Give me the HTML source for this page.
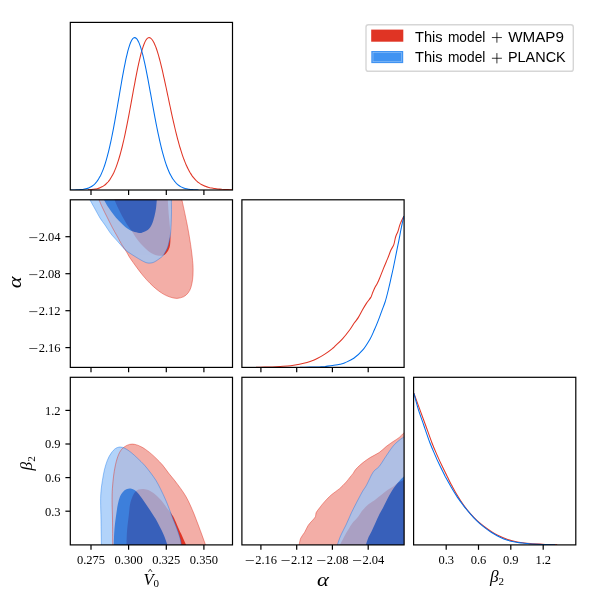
<!DOCTYPE html>
<html><head><meta charset="utf-8"><title>triangle plot</title>
<style>html,body{margin:0;padding:0;background:#fff;}svg{display:block;}text{font-family:"Liberation Serif",serif;fill:#000;}svg{will-change:transform;}.sans{font-family:"Liberation Sans",sans-serif;}</style></head><body>
<svg width="598" height="598" viewBox="0 0 598 598">
<rect x="0" y="0" width="598" height="598" fill="#ffffff"/>
<defs>
<clipPath id="cp00"><rect x="70.3" y="22.4" width="162.2" height="167.6"/></clipPath>
<clipPath id="cp10"><rect x="70.3" y="199.8" width="162.2" height="167.6"/></clipPath>
<clipPath id="cp11"><rect x="241.9" y="199.8" width="162.2" height="167.6"/></clipPath>
<clipPath id="cp20"><rect x="70.3" y="377.3" width="162.2" height="167.6"/></clipPath>
<clipPath id="cp21"><rect x="241.9" y="377.3" width="162.2" height="167.6"/></clipPath>
<clipPath id="cp22"><rect x="413.6" y="377.3" width="162.2" height="167.6"/></clipPath>
</defs>
<g clip-path="url(#cp10)">
<path d="M97.5 196.8C97.8 197.3 98.2 197.9 99 199.8C99.8 201.7 101.2 205.1 102.6 208C103.9 210.9 105.5 213.9 107.1 217.1C108.7 220.3 110.4 223.9 112.1 227.1C113.8 230.3 115.4 233.1 117.1 236.1C118.8 239.1 120.6 242.7 122.1 245.2C123.6 247.7 124.8 249.1 126.1 251.2C127.4 253.3 128.2 255.3 130 258C131.8 260.7 134.5 264.4 136.7 267.4C138.9 270.4 141.2 273.4 143.4 276.1C145.6 278.8 147.9 281.2 150.1 283.4C152.3 285.6 154.6 287.7 156.8 289.5C159 291.3 161.2 292.8 163.4 294.1C165.6 295.4 167.9 296.4 170.1 297.1C172.3 297.8 174.6 298.4 176.8 298.4C179 298.3 181.6 297.7 183.5 296.8C185.4 295.9 187 294.4 188.2 292.8C189.4 291.2 190.2 289.7 190.9 287.5C191.6 285.3 192.2 282.3 192.6 279.4C193 276.5 193.1 273.2 193.1 270.1C193.1 267 193 265 192.6 260.7C192.2 256.4 191.4 249.9 190.6 244.5C189.8 239.1 188.8 233.3 187.9 228.4C187 223.5 186.2 219.9 185.2 215.1C184.2 210.3 182.6 202.9 181.9 199.8C181.2 196.8 181.4 197.3 181.3 196.8Z" fill="#F3AEA7"/>
<path d="M113.3 196.8C113.5 197.3 113.8 198.1 114.6 200C115.4 201.9 116.8 205.3 118.1 208C119.3 210.7 120.8 213.6 122.1 216.1C123.4 218.6 124.8 220.9 126.1 223.1C127.4 225.3 129.2 227.6 130.2 229.1C131.2 230.6 131.2 230.3 132.2 231.8C133.2 233.3 134.9 236.3 136.4 238.3C137.9 240.3 139.4 242.2 141 244C142.6 245.8 144.3 247.5 146 249C147.7 250.5 149.4 252 151.1 253.1C152.7 254.2 154.4 254.9 156.1 255.3C157.8 255.8 159.9 255.8 161.1 255.8C162.3 255.8 162.6 255.7 163.4 255.3C164.2 255 165 254.5 165.8 253.7C166.6 252.9 167.5 251.8 168.1 250.7C168.7 249.6 169.2 248.5 169.6 247.2C170 245.8 170.2 244.3 170.3 242.6C170.4 240.9 170.5 239.4 170.4 237C170.3 234.6 170.3 231.7 170 228C169.7 224.3 169.2 219.7 168.8 215C168.4 210.3 168 203 167.8 200C167.6 197 167.8 197.3 167.8 196.8Z" fill="#E03424"/>
<g opacity="0.75"><path d="M88.5 196.8C88.8 197.3 88.9 198 90 200C91.1 202 93.3 206 95 209C96.7 212 98.3 215.3 100 218C101.7 220.7 103.3 222.6 105 225C106.7 227.4 108.3 230.3 110 232.6C111.7 234.9 113.4 236.7 115.1 238.6C116.8 240.5 118.4 242.3 120.1 244.2C121.8 246 123.4 248.2 125.1 249.7C126.8 251.2 128.2 252.1 130 253.3C131.8 254.5 134.2 256 136 257.1C137.8 258.2 139.3 259.2 141 260.1C142.7 261 144.5 262.1 146 262.6C147.5 263.1 148.7 263.2 150.1 263.1C151.4 263 152.8 262.7 154.1 262.1C155.4 261.5 156.8 260.5 158.1 259.6C159.4 258.7 161 257.6 162.1 256.6C163.2 255.6 163.5 255.2 164.4 253.6C165.3 252 166.7 249.6 167.6 247.2C168.5 244.8 169.1 241.2 169.6 239C170.1 236.8 170.2 236.1 170.5 233.8C170.8 231.5 170.9 228.5 171.1 225C171.3 221.5 171.4 217.2 171.5 213C171.6 208.8 171.4 202.7 171.4 200C171.4 197.3 171.4 197.3 171.4 196.8Z" fill="#99C5F8"/><path d="M102.5 196.8C102.8 197.3 103.2 198.3 104.1 200C105 201.7 106.6 204.7 108.1 207C109.6 209.3 111.4 211.9 113.1 214.1C114.8 216.3 116.4 218.3 118.1 220.1C119.8 221.9 121.4 223.6 123.1 225.1C124.8 226.6 126.4 228 128.1 229.1C129.8 230.2 131.3 231 133.2 231.6C135 232.2 137.7 232.8 139.2 232.9C140.7 233.1 141 233 142.4 232.5C143.8 232 146.1 231.3 147.7 230C149.3 228.7 150.7 226.7 151.8 224.4C152.9 222.1 153.7 219.1 154.4 216.4C155.1 213.7 155.6 211.1 156 208.4C156.4 205.7 156.6 202 156.8 200.1C157 198.2 157 197.4 157 196.8Z" fill="#006FED"/></g>
<path d="M97.5 196.8C97.8 197.3 98.2 197.9 99 199.8C99.8 201.7 101.2 205.1 102.6 208C103.9 210.9 105.5 213.9 107.1 217.1C108.7 220.3 110.4 223.9 112.1 227.1C113.8 230.3 115.4 233.1 117.1 236.1C118.8 239.1 120.6 242.7 122.1 245.2C123.6 247.7 124.8 249.1 126.1 251.2C127.4 253.3 128.2 255.3 130 258C131.8 260.7 134.5 264.4 136.7 267.4C138.9 270.4 141.2 273.4 143.4 276.1C145.6 278.8 147.9 281.2 150.1 283.4C152.3 285.6 154.6 287.7 156.8 289.5C159 291.3 161.2 292.8 163.4 294.1C165.6 295.4 167.9 296.4 170.1 297.1C172.3 297.8 174.6 298.4 176.8 298.4C179 298.3 181.6 297.7 183.5 296.8C185.4 295.9 187 294.4 188.2 292.8C189.4 291.2 190.2 289.7 190.9 287.5C191.6 285.3 192.2 282.3 192.6 279.4C193 276.5 193.1 273.2 193.1 270.1C193.1 267 193 265 192.6 260.7C192.2 256.4 191.4 249.9 190.6 244.5C189.8 239.1 188.8 233.3 187.9 228.4C187 223.5 186.2 219.9 185.2 215.1C184.2 210.3 182.6 202.9 181.9 199.8C181.2 196.8 181.4 197.3 181.3 196.8Z" fill="none" stroke="#E03424" stroke-opacity="0.55" stroke-width="0.85"/>
<path d="M88.5 196.8C88.8 197.3 88.9 198 90 200C91.1 202 93.3 206 95 209C96.7 212 98.3 215.3 100 218C101.7 220.7 103.3 222.6 105 225C106.7 227.4 108.3 230.3 110 232.6C111.7 234.9 113.4 236.7 115.1 238.6C116.8 240.5 118.4 242.3 120.1 244.2C121.8 246 123.4 248.2 125.1 249.7C126.8 251.2 128.2 252.1 130 253.3C131.8 254.5 134.2 256 136 257.1C137.8 258.2 139.3 259.2 141 260.1C142.7 261 144.5 262.1 146 262.6C147.5 263.1 148.7 263.2 150.1 263.1C151.4 263 152.8 262.7 154.1 262.1C155.4 261.5 156.8 260.5 158.1 259.6C159.4 258.7 161 257.6 162.1 256.6C163.2 255.6 163.5 255.2 164.4 253.6C165.3 252 166.7 249.6 167.6 247.2C168.5 244.8 169.1 241.2 169.6 239C170.1 236.8 170.2 236.1 170.5 233.8C170.8 231.5 170.9 228.5 171.1 225C171.3 221.5 171.4 217.2 171.5 213C171.6 208.8 171.4 202.7 171.4 200C171.4 197.3 171.4 197.3 171.4 196.8Z" fill="none" stroke="#006FED" stroke-opacity="0.45" stroke-width="0.85"/>
</g>
<g clip-path="url(#cp20)">
<path d="M112.7 547.9C112.7 547.4 112.7 549.5 112.7 544.9C112.7 540.2 112.6 527.2 112.5 520C112.4 512.8 112.1 507.1 112.1 501.9C112.1 496.6 112.1 493 112.4 488.5C112.7 484 113.1 479.6 113.7 475.1C114.3 470.7 115.2 465.6 116.2 461.8C117.2 458 118.3 454.9 119.6 452.4C120.9 449.9 122.5 448.3 124.2 447C125.9 445.7 127.8 444.8 129.6 444.4C131.4 444 133 444 135 444.4C137 444.8 139.3 445.7 141.7 447C144.1 448.3 147.1 450.5 149.5 452.4C151.9 454.3 154 456.3 156.2 458.4C158.4 460.5 160.5 462.7 162.6 465.1C164.7 467.6 166.7 470.7 168.6 473.1C170.5 475.6 172.1 477.2 174.1 479.8C176.1 482.4 178.8 485.9 180.8 488.7C182.8 491.5 184.6 494.1 186.1 496.8C187.6 499.5 188.8 501.9 190.1 504.8C191.4 507.7 192.8 510.8 194.1 514.1C195.4 517.4 196.8 521.2 198.2 524.8C199.5 528.4 201 532.2 202.2 535.6C203.4 539 204.8 542.9 205.5 544.9C206.2 546.9 206.4 547.4 206.6 547.9Z" fill="#F3AEA7"/>
<path d="M126.5 547.9C126.5 547.4 126.4 547.9 126.5 544.9C126.6 541.9 126.7 534.9 127.1 530.1C127.5 525.3 128.2 520.4 128.7 516.1C129.2 511.9 129.4 507.9 130 504.6C130.6 501.3 131.7 498.6 132.5 496.5C133.3 494.4 134.1 493 135.1 491.9C136.1 490.8 137.3 490.1 138.5 489.6C139.7 489.1 141.1 488.9 142.5 488.9C143.9 488.9 145.8 489.4 147.2 489.8C148.5 490.2 149.2 490.5 150.6 491.3C152 492.1 154 493.3 155.8 494.9C157.6 496.5 159.8 498.7 161.6 500.8C163.4 502.9 165.1 505.6 166.5 507.4C167.9 509.2 168.7 510.2 169.8 511.7C170.9 513.2 171.9 514.1 173.1 516.3C174.3 518.5 175.8 522 177.1 524.9C178.4 527.8 179.8 531 181 533.6C182.2 536.2 183.2 538.5 184.1 540.4C184.9 542.3 185.6 543.6 186.1 544.9C186.6 546.1 186.8 547.4 187 547.9Z" fill="#E03424"/>
<g opacity="0.75"><path d="M101.4 547.9C101.4 547.4 101.5 549.5 101.4 544.9C101.3 540.2 101.1 527.2 101 520C100.9 512.8 100.6 506.7 100.6 501.9C100.6 497.1 100.7 494.8 101 491.2C101.3 487.6 101.8 484.1 102.4 480.5C103 476.9 103.6 473.2 104.4 469.8C105.2 466.4 106.2 463.2 107.3 460.4C108.4 457.6 109.8 455.1 111.2 453.1C112.6 451.1 114 449.5 115.5 448.5C117 447.5 118.7 447 120.3 447C121.9 447 123.2 447.5 125 448.4C126.8 449.3 128.9 450.7 131 452.4C133.1 454.1 135.5 456.3 137.7 458.4C139.9 460.5 142.2 462.7 144.4 465.1C146.6 467.6 148.9 470.5 150.8 473.1C152.7 475.7 154.3 477.8 156 480.5C157.7 483.2 159.1 486.1 160.7 489.3C162.3 492.5 164.1 496.4 165.6 499.8C167.1 503.2 168.3 506.4 169.5 509.6C170.7 512.8 171.8 515.8 173 519C174.2 522.2 175.7 525.5 176.8 528.6C177.9 531.7 179 534.7 179.8 537.4C180.6 540.1 181 543.1 181.4 544.9C181.8 546.6 182 547.4 182.1 547.9Z" fill="#99C5F8"/><path d="M113.8 547.9C113.8 547.4 113.7 547.9 113.8 544.9C113.9 541.9 114 534.9 114.4 530.1C114.8 525.3 115.4 520.4 116 516.1C116.6 511.9 117.1 507.9 117.8 504.6C118.5 501.3 119.2 498.6 120 496.5C120.8 494.4 121.8 493.1 122.9 491.9C124 490.7 125.1 489.8 126.4 489.2C127.7 488.6 129.2 488.4 130.5 488.5C131.8 488.6 133.1 489.1 134.5 490.1C135.9 491.1 137.4 492.5 139.1 494.5C140.8 496.5 142.7 499.3 144.5 501.9C146.3 504.5 148.1 507.1 149.9 509.9C151.8 512.7 153.9 516 155.6 518.8C157.2 521.6 158.4 524.1 159.8 526.8C161.2 529.5 162.6 532.2 163.9 535.2C165.2 538.2 166.7 542.8 167.4 544.9C168.2 547 168.2 547.4 168.4 547.9Z" fill="#006FED"/></g>
<path d="M112.7 547.9C112.7 547.4 112.7 549.5 112.7 544.9C112.7 540.2 112.6 527.2 112.5 520C112.4 512.8 112.1 507.1 112.1 501.9C112.1 496.6 112.1 493 112.4 488.5C112.7 484 113.1 479.6 113.7 475.1C114.3 470.7 115.2 465.6 116.2 461.8C117.2 458 118.3 454.9 119.6 452.4C120.9 449.9 122.5 448.3 124.2 447C125.9 445.7 127.8 444.8 129.6 444.4C131.4 444 133 444 135 444.4C137 444.8 139.3 445.7 141.7 447C144.1 448.3 147.1 450.5 149.5 452.4C151.9 454.3 154 456.3 156.2 458.4C158.4 460.5 160.5 462.7 162.6 465.1C164.7 467.6 166.7 470.7 168.6 473.1C170.5 475.6 172.1 477.2 174.1 479.8C176.1 482.4 178.8 485.9 180.8 488.7C182.8 491.5 184.6 494.1 186.1 496.8C187.6 499.5 188.8 501.9 190.1 504.8C191.4 507.7 192.8 510.8 194.1 514.1C195.4 517.4 196.8 521.2 198.2 524.8C199.5 528.4 201 532.2 202.2 535.6C203.4 539 204.8 542.9 205.5 544.9C206.2 546.9 206.4 547.4 206.6 547.9Z" fill="none" stroke="#E03424" stroke-opacity="0.55" stroke-width="0.85"/>
<path d="M101.4 547.9C101.4 547.4 101.5 549.5 101.4 544.9C101.3 540.2 101.1 527.2 101 520C100.9 512.8 100.6 506.7 100.6 501.9C100.6 497.1 100.7 494.8 101 491.2C101.3 487.6 101.8 484.1 102.4 480.5C103 476.9 103.6 473.2 104.4 469.8C105.2 466.4 106.2 463.2 107.3 460.4C108.4 457.6 109.8 455.1 111.2 453.1C112.6 451.1 114 449.5 115.5 448.5C117 447.5 118.7 447 120.3 447C121.9 447 123.2 447.5 125 448.4C126.8 449.3 128.9 450.7 131 452.4C133.1 454.1 135.5 456.3 137.7 458.4C139.9 460.5 142.2 462.7 144.4 465.1C146.6 467.6 148.9 470.5 150.8 473.1C152.7 475.7 154.3 477.8 156 480.5C157.7 483.2 159.1 486.1 160.7 489.3C162.3 492.5 164.1 496.4 165.6 499.8C167.1 503.2 168.3 506.4 169.5 509.6C170.7 512.8 171.8 515.8 173 519C174.2 522.2 175.7 525.5 176.8 528.6C177.9 531.7 179 534.7 179.8 537.4C180.6 540.1 181 543.1 181.4 544.9C181.8 546.6 182 547.4 182.1 547.9Z" fill="none" stroke="#006FED" stroke-opacity="0.45" stroke-width="0.85"/>
</g>
<g clip-path="url(#cp21)">
<path d="M298.5 547.9C298.6 547.4 298.7 546.5 299.1 544.9C299.5 543.3 299.8 540.3 300.7 538.2C301.6 536.1 303.5 534.3 304.7 532.2C305.9 530.1 306.9 527.4 308.1 525.5C309.3 523.6 310.9 522.2 312.1 520.8C313.3 519.3 314.7 518.1 315.4 516.8C316.1 515.5 315.4 514.2 316.1 512.8C316.8 511.3 317.9 510 319.4 508.1C320.8 506.2 322.8 503.6 324.8 501.4C326.8 499.2 329.1 496.8 331.5 494.7C333.9 492.6 337.1 490.8 339.5 488.7C341.9 486.6 344.4 483.9 346.2 482C347.9 480.1 348.9 478.6 350 477.2C351.1 475.8 352.1 474.8 353.1 473.4C354.1 472 354.4 470.9 356 469.1C357.6 467.3 360.6 464.5 363 462.6C365.4 460.7 367.4 459.3 370.1 457.6C372.8 455.9 376.4 454.4 379.1 452.6C381.8 450.8 383.8 448.4 386.1 446.6C388.4 444.8 390.9 443.1 393.1 441.6C395.3 440.1 397.5 438.9 399.2 437.5C400.9 436.1 401.9 434.7 403.2 433.5C404.5 432.3 406.5 431 407.1 430.5L407.1 547.9Z" fill="#F3AEA7"/>
<path d="M339.2 547.9C339.3 547.4 339.2 546.7 340 544.9C340.8 543.1 342.6 539.6 344 536.9C345.4 534.2 347.3 531.1 348.7 528.9C350.1 526.7 350.5 525.5 352.1 523.5C353.7 521.5 356.3 519 358.1 516.8C359.9 514.6 361 512.2 362.8 510.1C364.6 508 366.7 505.9 368.8 504.1C370.9 502.3 373.4 501 375.5 499.4C377.6 497.8 379.5 496.2 381.5 494.7C383.5 493.1 385.6 491.4 387.5 490.1C389.4 488.8 391.3 487.8 392.9 486.7C394.5 485.6 395.8 484.2 396.9 483.4C398 482.6 398.5 482.6 399.6 482C400.7 481.4 402.4 480.6 403.6 480C404.9 479.4 406.5 478.8 407.1 478.5L407.1 547.9Z" fill="#E03424"/>
<g opacity="0.75"><path d="M336.8 547.9C336.9 547.4 336.8 546.9 337.4 544.9C338 542.9 339.2 539 340.7 535.6C342.1 532.2 344.3 528.6 346.1 524.8C347.9 521 349.6 516.6 351.4 512.8C353.2 509 355 505.6 356.8 502.1C358.6 498.7 360.5 495 362.1 492.1C363.7 489.2 364.8 488.3 366.6 485C368.4 481.7 371 475.3 373.1 472.2C375.2 469.1 377.3 468.8 379.1 466.6C380.9 464.4 382.6 461.4 384.1 459.1C385.6 456.9 386.6 455.3 388.1 453.1C389.6 450.9 391.4 448.1 393.1 446.1C394.8 444.1 396.5 442.5 398.2 441.1C399.9 439.7 401.7 438.4 403.2 437.5C404.7 436.6 406.5 435.8 407.1 435.5L407.1 547.9Z" fill="#99C5F8"/><path d="M365.3 547.9C365.4 547.4 365.4 546.5 365.9 544.9C366.4 543.3 367.2 540.4 368.1 538.2C369 536 370.3 534.1 371.5 531.5C372.7 528.9 374.2 525.7 375.5 522.8C376.8 519.9 378.2 516.8 379.5 514.1C380.8 511.4 382.2 509.4 383.5 506.8C384.8 504.2 386.2 501.4 387.5 498.8C388.8 496.2 390.1 493.6 391.5 491.4C392.9 489.2 394.2 487.2 395.6 485.4C397 483.6 398.3 482.1 399.6 480.7C400.9 479.2 402.4 477.8 403.6 476.7C404.9 475.6 406.5 474.4 407.1 474L407.1 547.9Z" fill="#006FED"/></g>
<path d="M298.5 547.9C298.6 547.4 298.7 546.5 299.1 544.9C299.5 543.3 299.8 540.3 300.7 538.2C301.6 536.1 303.5 534.3 304.7 532.2C305.9 530.1 306.9 527.4 308.1 525.5C309.3 523.6 310.9 522.2 312.1 520.8C313.3 519.3 314.7 518.1 315.4 516.8C316.1 515.5 315.4 514.2 316.1 512.8C316.8 511.3 317.9 510 319.4 508.1C320.8 506.2 322.8 503.6 324.8 501.4C326.8 499.2 329.1 496.8 331.5 494.7C333.9 492.6 337.1 490.8 339.5 488.7C341.9 486.6 344.4 483.9 346.2 482C347.9 480.1 348.9 478.6 350 477.2C351.1 475.8 352.1 474.8 353.1 473.4C354.1 472 354.4 470.9 356 469.1C357.6 467.3 360.6 464.5 363 462.6C365.4 460.7 367.4 459.3 370.1 457.6C372.8 455.9 376.4 454.4 379.1 452.6C381.8 450.8 383.8 448.4 386.1 446.6C388.4 444.8 390.9 443.1 393.1 441.6C395.3 440.1 397.5 438.9 399.2 437.5C400.9 436.1 401.9 434.7 403.2 433.5C404.5 432.3 406.5 431 407.1 430.5L407.1 547.9Z" fill="none" stroke="#E03424" stroke-opacity="0.55" stroke-width="0.85"/>
<path d="M336.8 547.9C336.9 547.4 336.8 546.9 337.4 544.9C338 542.9 339.2 539 340.7 535.6C342.1 532.2 344.3 528.6 346.1 524.8C347.9 521 349.6 516.6 351.4 512.8C353.2 509 355 505.6 356.8 502.1C358.6 498.7 360.5 495 362.1 492.1C363.7 489.2 364.8 488.3 366.6 485C368.4 481.7 371 475.3 373.1 472.2C375.2 469.1 377.3 468.8 379.1 466.6C380.9 464.4 382.6 461.4 384.1 459.1C385.6 456.9 386.6 455.3 388.1 453.1C389.6 450.9 391.4 448.1 393.1 446.1C394.8 444.1 396.5 442.5 398.2 441.1C399.9 439.7 401.7 438.4 403.2 437.5C404.7 436.6 406.5 435.8 407.1 435.5L407.1 547.9Z" fill="none" stroke="#006FED" stroke-opacity="0.45" stroke-width="0.85"/>
</g>
<g clip-path="url(#cp00)" fill="none" stroke-width="1.05" stroke-linejoin="round">
<path d="M88 189.8C88.3 189.8 89.3 189.7 90 189.7C90.7 189.6 91.3 189.6 92 189.5C92.7 189.4 93.3 189.3 94 189.2C94.7 189.1 95.3 189 96 188.9C96.7 188.7 97.3 188.6 98 188.4C98.7 188.2 99.3 188 100 187.7C100.7 187.5 101.3 187.2 102 186.8C102.7 186.5 103.3 186.1 104 185.6C104.7 185.1 105.3 184.6 106 184C106.7 183.4 107.3 182.7 108 182C108.7 181.2 109.3 180.3 110 179.4C110.7 178.4 111.3 177.3 112 176.1C112.7 174.9 113.3 173.6 114 172.2C114.7 170.7 115.3 169.1 116 167.4C116.7 165.6 117.3 163.7 118 161.7C118.7 159.6 119.3 157.4 120 155C120.7 152.7 121.3 150.2 122 147.5C122.7 144.8 123.3 142 124 139C124.7 136 125.3 132.9 126 129.6C126.7 126.4 127.3 123 128 119.6C128.7 116.2 129.3 112.6 130 109C130.7 105.4 131.3 101.8 132 98.1C132.7 94.5 133.3 90.8 134 87.2C134.7 83.7 135.3 80.1 136 76.7C136.7 73.2 137.3 69.9 138 66.7C138.7 63.6 139.3 60.5 140 57.8C140.7 55 141.3 52.4 142 50.2C142.7 47.9 143.3 45.9 144 44.2C144.7 42.5 145.3 41.1 146 40C146.7 39 147.3 38.3 148 37.9C148.7 37.5 149.3 37.6 150 37.8C150.7 38.1 151.3 38.7 152 39.5C152.7 40.3 153.3 41.4 154 42.7C154.7 44.1 155.3 45.7 156 47.5C156.7 49.3 157.3 51.4 158 53.6C158.7 55.8 159.3 58.2 160 60.8C160.7 63.3 161.3 66.1 162 68.9C162.7 71.8 163.3 74.7 164 77.8C164.7 80.8 165.3 83.9 166 87C166.7 90.2 167.3 93.4 168 96.5C168.7 99.7 169.3 102.9 170 106C170.7 109.1 171.3 112.3 172 115.3C172.7 118.3 173.3 121.3 174 124.2C174.7 127.1 175.3 129.9 176 132.6C176.7 135.3 177.3 137.9 178 140.4C178.7 142.8 179.3 145.2 180 147.5C180.7 149.7 181.3 151.8 182 153.9C182.7 155.9 183.3 157.8 184 159.5C184.7 161.3 185.3 163 186 164.5C186.7 166 187.3 167.5 188 168.8C188.7 170.1 189.3 171.3 190 172.5C190.7 173.6 191.3 174.6 192 175.6C192.7 176.5 193.3 177.4 194 178.2C194.7 179 195.3 179.7 196 180.4C196.7 181 197.3 181.6 198 182.2C198.7 182.7 199.3 183.2 200 183.6C200.7 184.1 201.3 184.4 202 184.8C202.7 185.2 203.3 185.5 204 185.8C204.7 186.1 205.3 186.3 206 186.5C206.7 186.8 207.3 187 208 187.2C208.7 187.4 209.3 187.5 210 187.7C210.7 187.8 211.3 188 212 188.1C212.7 188.2 213.3 188.3 214 188.4C214.7 188.5 215.3 188.6 216 188.7C216.7 188.8 217.3 188.9 218 188.9C218.7 189 219.3 189.1 220 189.1C220.7 189.2 221.3 189.2 222 189.3C222.7 189.3 223.3 189.3 224 189.4C224.7 189.4 225.3 189.5 226 189.5C226.7 189.5 227.3 189.6 228 189.6C228.7 189.6 229.3 189.6 230 189.7C230.7 189.7 231.7 189.7 232 189.7" stroke="#E03424"/>
<path d="M70.6 190C70.9 190 71.9 189.9 72.6 189.9C73.3 189.9 73.9 189.9 74.6 189.9C75.3 189.9 75.9 189.9 76.6 189.8C77.3 189.8 77.9 189.8 78.6 189.7C79.3 189.7 79.9 189.7 80.6 189.6C81.3 189.5 81.9 189.5 82.6 189.4C83.3 189.3 83.9 189.2 84.6 189C85.3 188.9 85.9 188.8 86.6 188.6C87.3 188.4 87.9 188.2 88.6 187.9C89.3 187.7 89.9 187.4 90.6 187C91.3 186.6 91.9 186.2 92.6 185.7C93.3 185.3 93.9 184.7 94.6 184.1C95.3 183.4 95.9 182.7 96.6 181.9C97.3 181 97.9 180.1 98.6 179C99.3 177.9 99.9 176.7 100.6 175.4C101.3 174 101.9 172.6 102.6 170.9C103.3 169.3 103.9 167.4 104.6 165.5C105.3 163.5 105.9 161.3 106.6 158.9C107.3 156.6 107.9 154 108.6 151.3C109.3 148.6 109.9 145.7 110.6 142.6C111.3 139.6 111.9 136.3 112.6 132.9C113.3 129.5 113.9 126 114.6 122.3C115.3 118.7 115.9 114.9 116.6 111C117.3 107.2 117.9 103.3 118.6 99.4C119.3 95.5 119.9 91.5 120.6 87.6C121.3 83.8 121.9 79.9 122.6 76.2C123.3 72.6 123.9 69 124.6 65.6C125.3 62.3 125.9 59.1 126.6 56.2C127.3 53.3 127.9 50.6 128.6 48.4C129.3 46.1 129.9 44.1 130.6 42.5C131.3 40.9 131.9 39.7 132.6 38.9C133.3 38.1 133.9 37.7 134.6 37.6C135.3 37.6 135.9 38 136.6 38.7C137.3 39.4 137.9 40.5 138.6 41.9C139.3 43.4 139.9 45.1 140.6 47.2C141.3 49.2 141.9 51.6 142.6 54.2C143.3 56.7 143.9 59.6 144.6 62.6C145.3 65.7 145.9 68.9 146.6 72.3C147.3 75.7 147.9 79.2 148.6 82.8C149.3 86.3 149.9 90.1 150.6 93.7C151.3 97.4 151.9 101.1 152.6 104.8C153.3 108.4 153.9 112.1 154.6 115.6C155.3 119.2 155.9 122.7 156.6 126C157.3 129.4 157.9 132.6 158.6 135.7C159.3 138.9 159.9 141.8 160.6 144.7C161.3 147.5 161.9 150.1 162.6 152.6C163.3 155.1 163.9 157.5 164.6 159.7C165.3 161.8 165.9 163.8 166.6 165.7C167.3 167.6 167.9 169.3 168.6 170.8C169.3 172.4 169.9 173.8 170.6 175.1C171.3 176.4 171.9 177.5 172.6 178.6C173.3 179.6 173.9 180.5 174.6 181.3C175.3 182.2 175.9 182.9 176.6 183.6C177.3 184.2 177.9 184.8 178.6 185.3C179.3 185.8 179.9 186.2 180.6 186.6C181.3 187 181.9 187.3 182.6 187.6C183.3 187.8 183.9 188.1 184.6 188.3C185.3 188.5 185.9 188.7 186.6 188.8C187.3 189 187.9 189.1 188.6 189.2C189.3 189.3 189.9 189.4 190.6 189.4C191.3 189.5 191.9 189.6 192.6 189.6C193.3 189.7 193.9 189.7 194.6 189.8C195.3 189.8 195.9 189.8 196.6 189.8C197.3 189.9 198.3 189.9 198.6 189.9" stroke="#006FED"/>
</g>
<g clip-path="url(#cp11)" fill="none" stroke-width="1.05" stroke-linejoin="round">
<path d="M403.9 216C403.3 217.3 401.3 221.1 400.3 223.6C399.3 226.1 398.8 229 398 231.2C397.2 233.4 396.3 234.8 395.6 237C394.9 239.2 394.6 242.4 393.8 244.6C393 246.8 391.9 247.9 390.8 250.3C389.8 252.7 388.8 255.8 387.5 258.9C386.2 262 384.6 265.7 383.3 268.9C382 272.1 380.7 275.7 379.6 278.2C378.6 280.7 377.7 282.6 377 284C376.3 285.4 375.8 285.8 375.3 286.8C374.8 287.8 374.3 288.9 373.8 290C373.3 291.1 373 291.9 372.5 293.1C372 294.3 371.8 295.7 370.8 297.4C369.7 299.1 367.8 301.3 366.4 303.4C365 305.5 363.7 307.8 362.4 310.1C361.1 312.4 359.7 315.3 358.4 317.4C357.1 319.5 355.8 320.8 354.4 322.8C353 324.8 352 326.8 350 329.5C348 332.2 345 336.1 342.5 338.9C340 341.7 336.6 344.6 335 346.2C333.4 347.8 334.3 347 332.7 348.3C331.1 349.6 327.7 352.2 325.2 353.9C322.7 355.6 320.2 357 317.7 358.3C315.2 359.6 312.7 360.6 310.1 361.5C307.6 362.4 305.1 363 302.6 363.6C300.1 364.2 297.6 364.6 295.1 365C292.6 365.4 290.1 365.8 287.6 366C285.1 366.2 282.6 366.4 280.1 366.5C277.5 366.6 275 366.8 272.5 366.9C270 367 267.8 367 265 367.1C262.2 367.2 257.5 367.3 256 367.3" stroke="#E03424"/>
<path d="M403.9 216C403.5 217.9 402.2 223.3 401.4 227.4C400.5 231.5 399.7 236.4 398.8 240.8C397.9 245.2 397 249.7 396.1 254.1C395.2 258.6 394.3 263.2 393.4 267.5C392.5 271.8 391.5 275.9 390.7 279.6C389.9 283.4 389.2 286.3 388.3 290C387.4 293.7 386.2 298.6 385.1 302C384 305.4 383 307.5 381.9 310.6C380.8 313.7 379.6 317.2 378.3 320.4C377.1 323.6 375.8 326.6 374.4 329.7C373 332.8 372.1 335.5 370.1 338.9C368.1 342.3 365.3 347 362.6 350.2C359.9 353.4 356.7 356.2 353.8 358.3C350.9 360.4 347.3 361.7 345 362.7C342.7 363.7 342.1 363.7 340 364.2C337.9 364.7 335.2 365.1 332.7 365.5C330.2 365.9 327.7 366.1 325.2 366.4C322.7 366.6 320.2 366.7 317.7 366.9C315.2 367 313.1 367 310.1 367.1C307.2 367.2 301.7 367.3 300 367.3" stroke="#006FED"/>
</g>
<g clip-path="url(#cp22)" fill="none" stroke-width="1.05" stroke-linejoin="round">
<path d="M413.9 393.3C414.8 395.8 417.5 403.1 419.4 408.4C421.3 413.7 423.4 419.2 425.5 425C427.6 430.8 430.1 438 432 443C433.9 448 435.4 451.2 437.1 455.1C438.8 459 440.4 462.6 442.1 466.1C443.8 469.6 445.5 473.1 447.1 476.2C448.7 479.3 449.8 481.9 451.5 485C453.2 488.1 455.1 491.8 457.1 495.1C459.1 498.5 461.4 502.1 463.6 505.1C465.8 508.2 467.9 510.8 470.1 513.4C472.4 516 474.8 518.5 477.1 520.7C479.4 522.9 481.8 524.7 484.1 526.5C486.5 528.3 488.9 530 491.2 531.5C493.5 533 495 534 497.7 535.3C500.4 536.6 504.7 538.5 507.6 539.5C510.5 540.5 512.6 541 515.1 541.5C517.6 542 520.1 542.4 522.6 542.7C525.1 543.1 526.4 543.3 530.2 543.6C534 543.9 540.7 544.2 545.2 544.4C549.7 544.6 555.2 544.7 557.2 544.7" stroke="#E03424"/>
<path d="M413.9 393.3C414.6 395.8 416.4 403.1 418 408.4C419.6 413.7 421.7 419.2 423.7 425C425.7 430.8 428.1 438 430 443C431.9 448 433.4 451.2 435.1 455.1C436.7 459 438.4 462.6 440.1 466.1C441.8 469.6 443.5 473.1 445.1 476.2C446.8 479.3 448.2 481.9 450 485C451.8 488.1 453.9 491.8 456.1 495.1C458.2 498.5 460.8 502 463.1 505.1C465.4 508.2 467.8 510.9 470.1 513.6C472.4 516.3 474.8 518.9 477.1 521.2C479.4 523.5 481.8 525.4 484.1 527.2C486.5 529.1 488.5 530.6 491.2 532.3C493.9 534 497.3 536 500.1 537.3C502.8 538.6 505.1 539.5 507.6 540.3C510.1 541.1 512.6 541.6 515.1 542.1C517.6 542.6 520.1 542.8 522.6 543.1C525.1 543.4 526.9 543.7 530.2 543.9C533.5 544.1 538.1 544.4 542.2 544.5C546.3 544.6 552.9 544.8 555 544.8" stroke="#006FED"/>
</g>
<g fill="none" stroke="#000" stroke-width="1.2">
<rect x="70.3" y="22.4" width="162.2" height="167.6"/>
<rect x="70.3" y="199.8" width="162.2" height="167.6"/>
<rect x="241.9" y="199.8" width="162.2" height="167.6"/>
<rect x="70.3" y="377.3" width="162.2" height="167.6"/>
<rect x="241.9" y="377.3" width="162.2" height="167.6"/>
<rect x="413.6" y="377.3" width="162.2" height="167.6"/>
</g>
<g stroke="#000" stroke-width="1.2">
<line x1="91" y1="190" x2="91" y2="194.9"/>
<line x1="128.6" y1="190" x2="128.6" y2="194.9"/>
<line x1="166.3" y1="190" x2="166.3" y2="194.9"/>
<line x1="203.9" y1="190" x2="203.9" y2="194.9"/>
<line x1="91" y1="367.4" x2="91" y2="372.3"/>
<line x1="128.6" y1="367.4" x2="128.6" y2="372.3"/>
<line x1="166.3" y1="367.4" x2="166.3" y2="372.3"/>
<line x1="203.9" y1="367.4" x2="203.9" y2="372.3"/>
<line x1="260.9" y1="367.4" x2="260.9" y2="372.3"/>
<line x1="296.7" y1="367.4" x2="296.7" y2="372.3"/>
<line x1="332.4" y1="367.4" x2="332.4" y2="372.3"/>
<line x1="368.2" y1="367.4" x2="368.2" y2="372.3"/>
<line x1="91" y1="544.9" x2="91" y2="549.8"/>
<line x1="128.6" y1="544.9" x2="128.6" y2="549.8"/>
<line x1="166.3" y1="544.9" x2="166.3" y2="549.8"/>
<line x1="203.9" y1="544.9" x2="203.9" y2="549.8"/>
<line x1="260.9" y1="544.9" x2="260.9" y2="549.8"/>
<line x1="296.7" y1="544.9" x2="296.7" y2="549.8"/>
<line x1="332.4" y1="544.9" x2="332.4" y2="549.8"/>
<line x1="368.2" y1="544.9" x2="368.2" y2="549.8"/>
<line x1="446.2" y1="544.9" x2="446.2" y2="549.8"/>
<line x1="478.5" y1="544.9" x2="478.5" y2="549.8"/>
<line x1="510.8" y1="544.9" x2="510.8" y2="549.8"/>
<line x1="543.2" y1="544.9" x2="543.2" y2="549.8"/>
<line x1="70.3" y1="236.7" x2="65.4" y2="236.7"/>
<line x1="70.3" y1="273.7" x2="65.4" y2="273.7"/>
<line x1="70.3" y1="310.7" x2="65.4" y2="310.7"/>
<line x1="70.3" y1="347.6" x2="65.4" y2="347.6"/>
<line x1="70.3" y1="410.4" x2="65.4" y2="410.4"/>
<line x1="70.3" y1="444" x2="65.4" y2="444"/>
<line x1="70.3" y1="477.6" x2="65.4" y2="477.6"/>
<line x1="70.3" y1="511.2" x2="65.4" y2="511.2"/>
</g>
<g font-size="12.5">
<text x="91" y="564.0" text-anchor="middle">0.275</text>
<text x="128.6" y="564.0" text-anchor="middle">0.300</text>
<text x="166.3" y="564.0" text-anchor="middle">0.325</text>
<text x="203.9" y="564.0" text-anchor="middle">0.350</text>
<text x="277" y="564.0" text-anchor="end">2.16</text>
<line x1="245.7" y1="560.5" x2="253.9" y2="560.5" stroke="#000" stroke-width="0.65"/>
<text x="312.8" y="564.0" text-anchor="end">2.12</text>
<line x1="281.5" y1="560.5" x2="289.7" y2="560.5" stroke="#000" stroke-width="0.65"/>
<text x="348.5" y="564.0" text-anchor="end">2.08</text>
<line x1="317.2" y1="560.5" x2="325.4" y2="560.5" stroke="#000" stroke-width="0.65"/>
<text x="384.3" y="564.0" text-anchor="end">2.04</text>
<line x1="353" y1="560.5" x2="361.2" y2="560.5" stroke="#000" stroke-width="0.65"/>
<text x="446.2" y="564.0" text-anchor="middle">0.3</text>
<text x="478.5" y="564.0" text-anchor="middle">0.6</text>
<text x="510.8" y="564.0" text-anchor="middle">0.9</text>
<text x="543.2" y="564.0" text-anchor="middle">1.2</text>
<text x="60.6" y="241.1" text-anchor="end">2.04</text>
<line x1="29.25" y1="237.6" x2="37.4" y2="237.6" stroke="#000" stroke-width="0.65"/>
<text x="60.6" y="278.1" text-anchor="end">2.08</text>
<line x1="29.25" y1="274.6" x2="37.4" y2="274.6" stroke="#000" stroke-width="0.65"/>
<text x="60.6" y="315.1" text-anchor="end">2.12</text>
<line x1="29.25" y1="311.6" x2="37.4" y2="311.6" stroke="#000" stroke-width="0.65"/>
<text x="60.6" y="352" text-anchor="end">2.16</text>
<line x1="29.25" y1="348.5" x2="37.4" y2="348.5" stroke="#000" stroke-width="0.65"/>
<text x="60.6" y="414.8" text-anchor="end">1.2</text>
<text x="60.6" y="448.4" text-anchor="end">0.9</text>
<text x="60.6" y="482" text-anchor="end">0.6</text>
<text x="60.6" y="515.6" text-anchor="end">0.3</text>
</g>
<g font-style="italic" font-size="16.5">
<text x="143.6" y="584.7">V</text>
<text x="153.4" y="587.3" font-size="11" font-style="normal">0</text>
<path d="M148.4 571.9 L150.2 569.2 L152 571.9" fill="none" stroke="#000" stroke-width="0.75"/>
<text transform="translate(322.95,585.7) scale(1.22,1)" text-anchor="middle" font-size="18.5">α</text>
<g transform="translate(490,582)"><text transform="scale(1.06,1)" x="0" y="0.2" font-size="16.3">β</text><text x="8.6" y="2.7" font-size="11" font-style="normal">2</text></g>
<text transform="translate(21.0,282.35) rotate(-90) scale(1.22,1)" text-anchor="middle" font-size="18.5">α</text>
<g transform="translate(32,470.45) rotate(-90)"><text transform="scale(1.06,1)" x="0" y="0.2" font-size="16.3">β</text><text x="8.6" y="2.7" font-size="11" font-style="normal">2</text></g>
</g>
<rect x="366" y="24.8" width="207.3" height="46.5" rx="2.4" ry="2.4" fill="#fff" stroke="#d6d6d6" stroke-width="1.4"/>
<rect x="371.2" y="29.6" width="32.1" height="12.1" fill="#E03424"/>
<rect x="371.3" y="51.0" width="31.9" height="12.1" fill="#006FED" fill-opacity="0.75"/>
<rect x="373.0" y="52.4" width="28.5" height="9.3" fill="none" stroke="#fff" stroke-opacity="0.45" stroke-width="0.6"/>
<text class="sans" transform="translate(415.04,41.70) scale(1.0230,1)" font-size="14.3">This</text>
<text class="sans" transform="translate(447.91,41.70) scale(0.9629,1)" font-size="14.3">model</text>
<text class="sans" transform="translate(508.19,41.70) scale(1.0641,1)" font-size="14.3">WMAP9</text>
<path d="M491.9 37.55H501.9M496.9 32.40V42.70" stroke="#000" stroke-width="0.8" fill="none"/>
<text class="sans" transform="translate(415.04,62.40) scale(1.0230,1)" font-size="14.3">This</text>
<text class="sans" transform="translate(447.91,62.40) scale(0.9629,1)" font-size="14.3">model</text>
<text class="sans" transform="translate(507.97,62.40) scale(1.0095,1)" font-size="14.3">PLANCK</text>
<path d="M491.9 58.25H501.9M496.9 53.10V63.40" stroke="#000" stroke-width="0.8" fill="none"/>
</svg></body></html>
